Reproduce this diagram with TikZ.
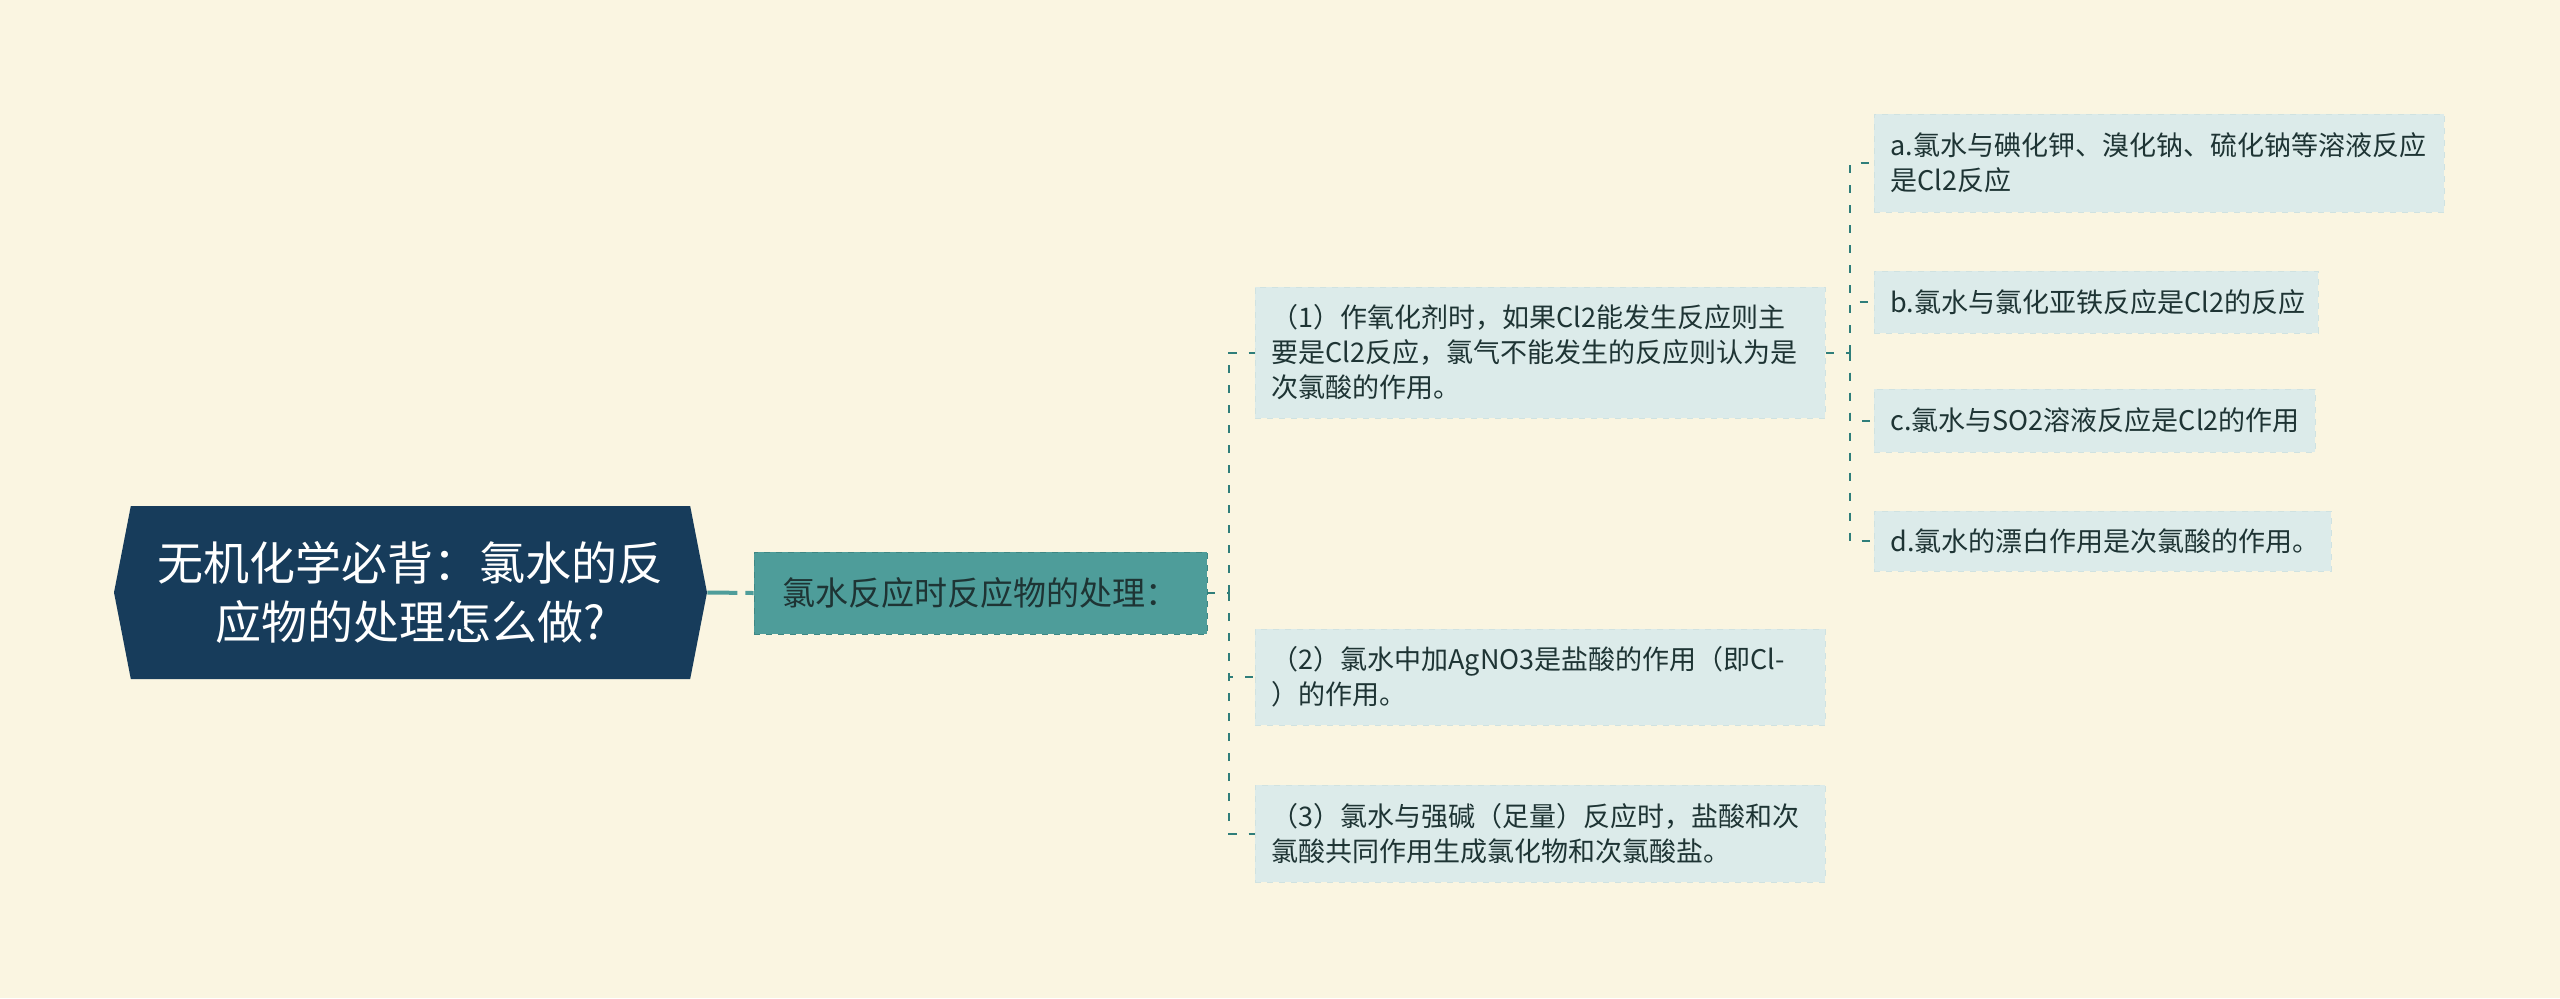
\documentclass[tikz,border=0pt]{standalone}
\usepackage{fontspec}
\setmainfont{Noto Sans CJK SC}
\usepackage{tikz}
\usetikzlibrary{positioning,calc,shapes.symbols}
\definecolor{bgcream}{HTML}{FAF5E1}
\definecolor{rootblue}{HTML}{173C5B}
\definecolor{teal}{HTML}{4E9D9A}
\definecolor{tealdark}{HTML}{3D8784}
\definecolor{linkteal}{HTML}{2F7E7A}
\definecolor{leaffill}{HTML}{DCEBEA}
\definecolor{leafedge}{HTML}{CFE2E1}
\definecolor{inkdark}{HTML}{1E3434}

\begin{document}
\begin{tikzpicture}[x=0.5pt,y=-0.5pt,
        rootbox/.style={shape=signal, signal to=west and east, signal pointer angle=158,
            fill=rootblue, text=white, align=center, inner sep=0pt,
            minimum width=296.5pt, minimum height=86.5pt,
            font=\fontsize{23}{29.5}\selectfont},
        midbox/.style={rectangle, fill=teal, draw=tealdark, dashed, text=inkdark,
            align=center, inner sep=0pt, minimum width=226.5pt, minimum height=41pt,
            font=\fontsize{16.5}{20}\selectfont},
        leafbox/.style={rectangle, fill=leaffill, draw=leafedge, dashed, text=inkdark,
            anchor=west, align=left, inner xsep=8pt, inner ysep=0pt,
            font=\fontsize{13.5}{17.5}\selectfont},
        rootlink/.style={draw=teal, line width=2pt, dash pattern=on 15pt off 4pt},
        link/.style={draw=linkteal, line width=1pt, dash pattern=on 4pt off 6pt}]
        \useasboundingbox[fill=bgcream] (0,0) rectangle (2560,998);

        % main topic and first branch
        \node[rootbox] (root) at (410.5,592.5) {无机化学必背：氯水的反\\应物的处理怎么做?};
        \node[midbox] (deal) at (980.5,593) {氯水反应时反应物的处理：};

        % second level
        \node[leafbox, minimum width=285pt, minimum height=65.5pt, text width=269pt] (case1) at (1255,352.5)
            {（1）作氧化剂时，如果Cl2能发生反应则主\\要是Cl2反应，氯气不能发生的反应则认为是\\次氯酸的作用。};
        \node[leafbox, minimum width=285pt, minimum height=48pt, text width=269pt] (case2) at (1255,677)
            {（2）氯水中加AgNO3是盐酸的作用（即Cl-\\）的作用。};
        \node[leafbox, minimum width=285pt, minimum height=48.5pt, text width=269pt] (case3) at (1255,833.5)
            {（3）氯水与强碱（足量）反应时，盐酸和次\\氯酸共同作用生成氯化物和次氯酸盐。};

        % third level
        \node[leafbox, minimum width=285pt, minimum height=49pt, text width=269pt] (exA) at (1874,163)
            {a.氯水与碘化钾、溴化钠、硫化钠等溶液反应\\是Cl2反应};
        \node[leafbox, minimum width=222pt, minimum height=31pt, text width=206pt] (exB) at (1874,302)
            {b.氯水与氯化亚铁反应是Cl2的反应};
        \node[leafbox, minimum width=220.5pt, minimum height=31.5pt, text width=204.5pt] (exC) at (1874,420.5)
            {c.氯水与SO2溶液反应是Cl2的作用};
        \node[leafbox, minimum width=228.5pt, minimum height=30pt, text width=212.5pt] (exD) at (1874,541)
            {d.氯水的漂白作用是次氯酸的作用。};

        % connectors
        \coordinate (bus1) at (1229,593);
        \coordinate (bus2) at (1850,352.5);
        \draw[rootlink] (root.east) -- (deal.west);
        \draw[link] (deal.east) -- (bus1);
        \foreach \kid in {case1,case2,case3}
            \draw[link] (bus1) |- (\kid.west);
        \draw[link] (case1.east) -- (bus2);
        \foreach \kid in {exA,exB,exC,exD}
            \draw[link] (bus2) |- (\kid.west);
\end{tikzpicture}
\end{document}
